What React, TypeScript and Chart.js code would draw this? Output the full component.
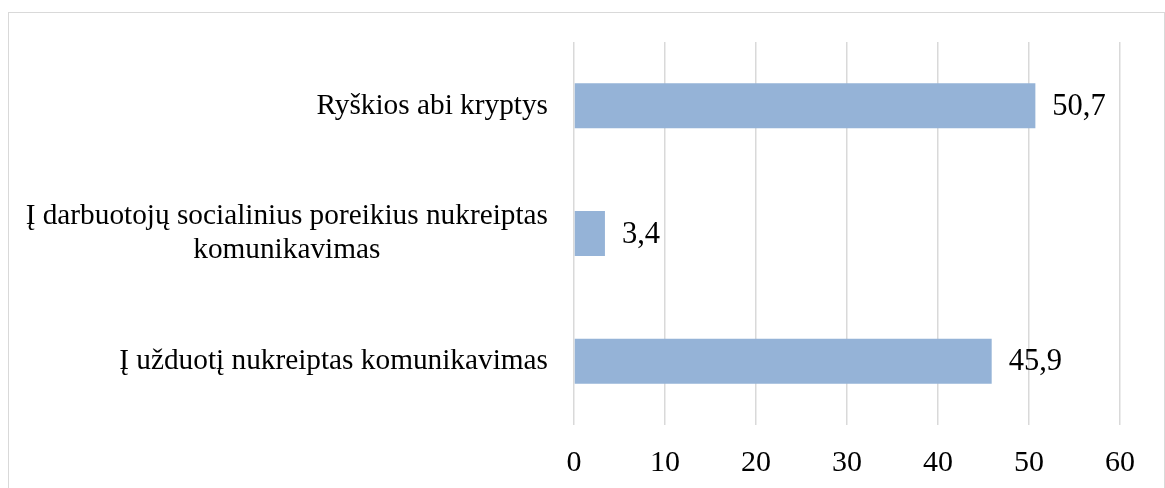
import React, { useEffect, useRef } from "react";
import { Chart, registerables } from "chart.js";

Chart.register(...registerables);

const categories: string[][] = [
  ["Ryškios abi kryptys"],
  ["Į darbuotojų socialinius poreikius nukreiptas", "komunikavimas"],
  ["Į užduotį nukreiptas komunikavimas"],
];
const values: number[] = [50.7, 3.4, 45.9];
const xMin = 0;
const xMax = 60;
const xStep = 10;

const FONT = "'Liberation Serif', 'Times New Roman', serif";
const BAR_COLOR = "#95b3d7";
const GRID_COLOR = "#d9d9d9";
const TEXT_COLOR = "#000000";

const categoryLabelsPlugin = {
  id: "categoryLabels",
  afterDraw(chart: any) {
    const ctx = chart.ctx;
    const yScale = chart.scales.y;
    const area = chart.chartArea;
    ctx.save();
    ctx.font = `29.3px ${FONT}`;
    ctx.fillStyle = TEXT_COLOR;
    ctx.textBaseline = "middle";
    ctx.textAlign = "center";
    const lineHeight = 34;
    const right = area.left - 26;
    categories.forEach((lines, i) => {
      const cy = yScale.getPixelForTick(i);
      const blockW = Math.max(...lines.map((l) => ctx.measureText(l).width));
      const cx = right - blockW / 2;
      const startY = cy - ((lines.length - 1) * lineHeight) / 2;
      lines.forEach((line, j) => {
        ctx.fillText(line, cx, startY + j * lineHeight);
      });
    });
    ctx.restore();
  },
};

const valueLabelsPlugin = {
  id: "valueLabels",
  afterDatasetsDraw(chart: any) {
    const ctx = chart.ctx;
    const meta = chart.getDatasetMeta(0);
    ctx.save();
    ctx.font = `30.5px ${FONT}`;
    ctx.fillStyle = TEXT_COLOR;
    ctx.textBaseline = "middle";
    ctx.textAlign = "left";
    meta.data.forEach((bar: any, i: number) => {
      const txt = values[i].toFixed(1).replace(".", ",");
      ctx.fillText(txt, bar.x + 17, bar.y + 1);
    });
    ctx.restore();
  },
};

export default function App() {
  const canvasRef = useRef<HTMLCanvasElement | null>(null);

  useEffect(() => {
    if (!canvasRef.current) return;
    const chart = new Chart(canvasRef.current, {
      type: "bar",
      data: {
        labels: categories.map((c) => c.join(" ")),
        datasets: [
          {
            data: values,
            backgroundColor: BAR_COLOR,
            borderWidth: 0,
            barPercentage: 0.353,
            categoryPercentage: 1,
          },
        ],
      },
      options: {
        indexAxis: "y",
        responsive: false,
        animation: false,
        events: [],
        layout: { padding: { top: 29, right: 44, left: 0, bottom: 0 } },
        plugins: {
          legend: { display: false },
          tooltip: { enabled: false },
        },
        scales: {
          x: {
            min: xMin,
            max: xMax,
            position: "bottom",
            ticks: {
              stepSize: xStep,
              color: TEXT_COLOR,
              font: { family: FONT, size: 30 },
              padding: 20,
              maxRotation: 0,
            },
            grid: {
              color: GRID_COLOR,
              lineWidth: 1.5,
              drawTicks: false,
            },
            border: { display: false },
            afterFit: (scale: any) => {
              scale.height = 63;
            },
          },
          y: {
            ticks: { display: false },
            grid: { display: false, drawTicks: false },
            border: { display: false },
            afterFit: (scale: any) => {
              scale.width = 565;
            },
          },
        },
      },
      plugins: [categoryLabelsPlugin, valueLabelsPlugin],
    });
    return () => chart.destroy();
  }, []);

  return (
    <div
      style={{
        position: "absolute",
        left: 8,
        top: 12,
        width: 1157,
        height: 476,
        boxSizing: "border-box",
        border: "1px solid #d9d9d9",
        borderBottom: "none",
        background: "#ffffff",
      }}
    >
      <canvas ref={canvasRef} width={1155} height={475} style={{ display: "block" }} />
    </div>
  );
}
